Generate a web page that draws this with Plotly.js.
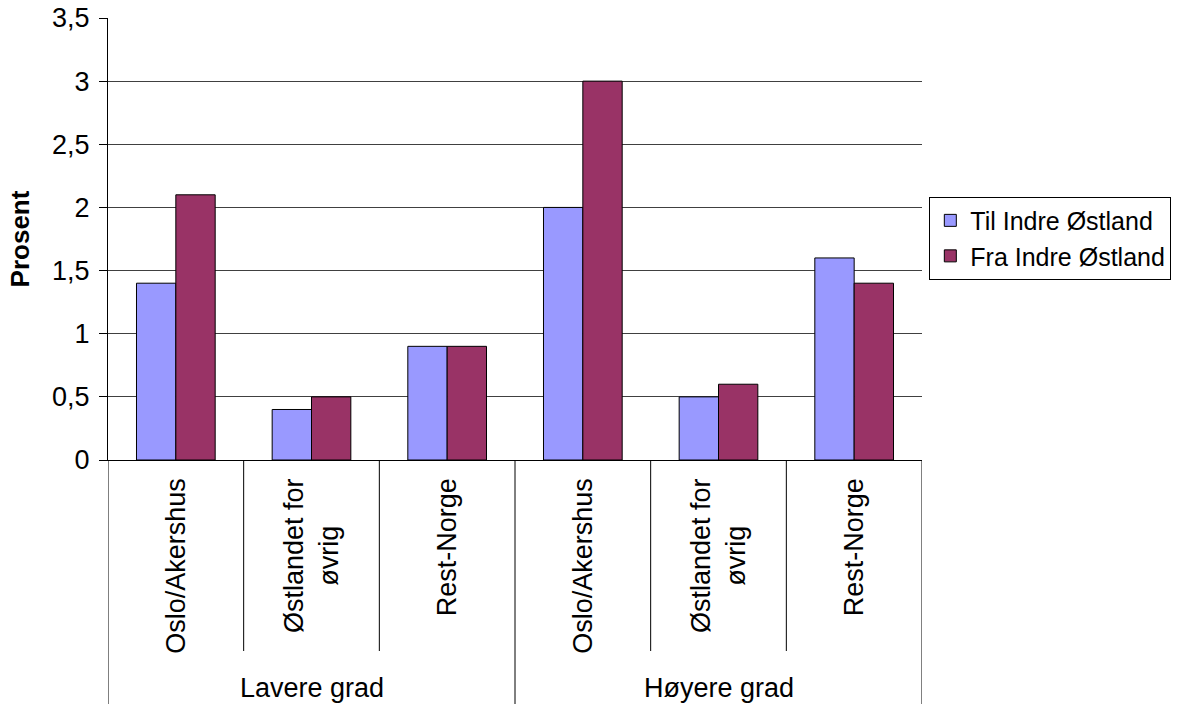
<!DOCTYPE html>
<html>
<head>
<meta charset="utf-8">
<script src="https://cdn.plot.ly/plotly-3.0.1.min.js"></script>
<style>html,body{margin:0;padding:0;background:#fff;}#chart{width:1180px;height:704px;}</style>
</head>
<body>
<div id="chart"></div>
<script>
const categories = ["Oslo/Akershus", "Østlandet for<br>øvrig", "Rest-Norge", "Oslo/Akershus", "Østlandet for<br>øvrig", "Rest-Norge"];
const groups = ["Lavere grad", "Høyere grad"];
const seriesNames = ["Til Indre Østland", "Fra Indre Østland"];
const tilValues = [1.4, 0.4, 0.9, 2.0, 0.5, 1.6];
const fraValues = [2.1, 0.5, 0.9, 3.0, 0.6, 1.4];
const yTicks = [0, 0.5, 1, 1.5, 2, 2.5, 3, 3.5];

const xIdx = categories.map((_, i) => i);
const font = {family: "Liberation Sans, Arial, sans-serif", size: 27, color: "#000"};

const traces = [
  {type: "bar", name: seriesNames[0], x: xIdx, y: tilValues,
   marker: {color: "#9999FF", line: {color: "#000", width: 1}}},
  {type: "bar", name: seriesNames[1], x: xIdx, y: fraValues,
   marker: {color: "#993366", line: {color: "#000", width: 1}}}
];

const shapes = [];
const innerBottom = (460 - 651) / 442;
const outerBottom = -0.56;
[0.5, 1.5, 3.5, 4.5].forEach(v => shapes.push({type: "line", xref: "x", yref: "paper", x0: v, x1: v, y0: 0, y1: innerBottom, line: {color: "#000", width: 1}}));
[-0.5, 2.5, 5.5].forEach(v => shapes.push({type: "line", xref: "x", yref: "paper", x0: v, x1: v, y0: 0, y1: outerBottom, line: {color: "#000", width: 1}}));

const annotations = groups.map((g, i) => ({
  text: g, xref: "x", yref: "paper", x: 1 + 3 * i, y: (460 - 688) / 442,
  showarrow: false, font: font, xanchor: "center", yanchor: "middle"
}));
categories.forEach((c, i) => annotations.push({
  text: c, xref: "x", yref: "paper", x: i, y: (460 - 477) / 442,
  showarrow: false, font: font, textangle: -90, align: "center",
  xanchor: "center", yanchor: "top", borderpad: 0
}));

const layout = {
  width: 1180, height: 704,
  margin: {l: 108, r: 258, t: 18, b: 244, autoexpand: false},
  paper_bgcolor: "#fff", plot_bgcolor: "#fff",
  font: font,
  separators: ",.",
  barmode: "group",
  bargap: 0.42, bargroupgap: 0,
  xaxis: {
    range: [-0.5, 5.5], tickmode: "array", tickvals: xIdx, showticklabels: false,
    showgrid: false, zeroline: false, showline: true, linecolor: "#000", linewidth: 1,
    ticks: "", fixedrange: true
  },
  yaxis: {
    range: [0, 3.5], tickmode: "array", tickvals: yTicks,
    showgrid: true, gridcolor: "#404040", gridwidth: 1, zeroline: false,
    showline: true, linecolor: "#000", linewidth: 1,
    ticks: "outside", ticklen: 8, tickcolor: "#000", tickfont: font,
    ticklabelstandoff: 4,
    title: {text: "<b>Prosent</b>", font: {family: font.family, size: 26, color: "#000"}, standoff: 14}
  },
  legend: {
    x: 1.009, xanchor: "left", y: 0.502, yanchor: "middle",
    bordercolor: "#000", borderwidth: 1, bgcolor: "#fff",
    font: {family: font.family, size: 25, color: "#000"}, tracegroupgap: 0, itemwidth: 30
  },
  shapes: shapes,
  annotations: annotations
};

Plotly.newPlot("chart", traces, layout, {displayModeBar: false, staticPlot: true});
</script>
</body>
</html>
